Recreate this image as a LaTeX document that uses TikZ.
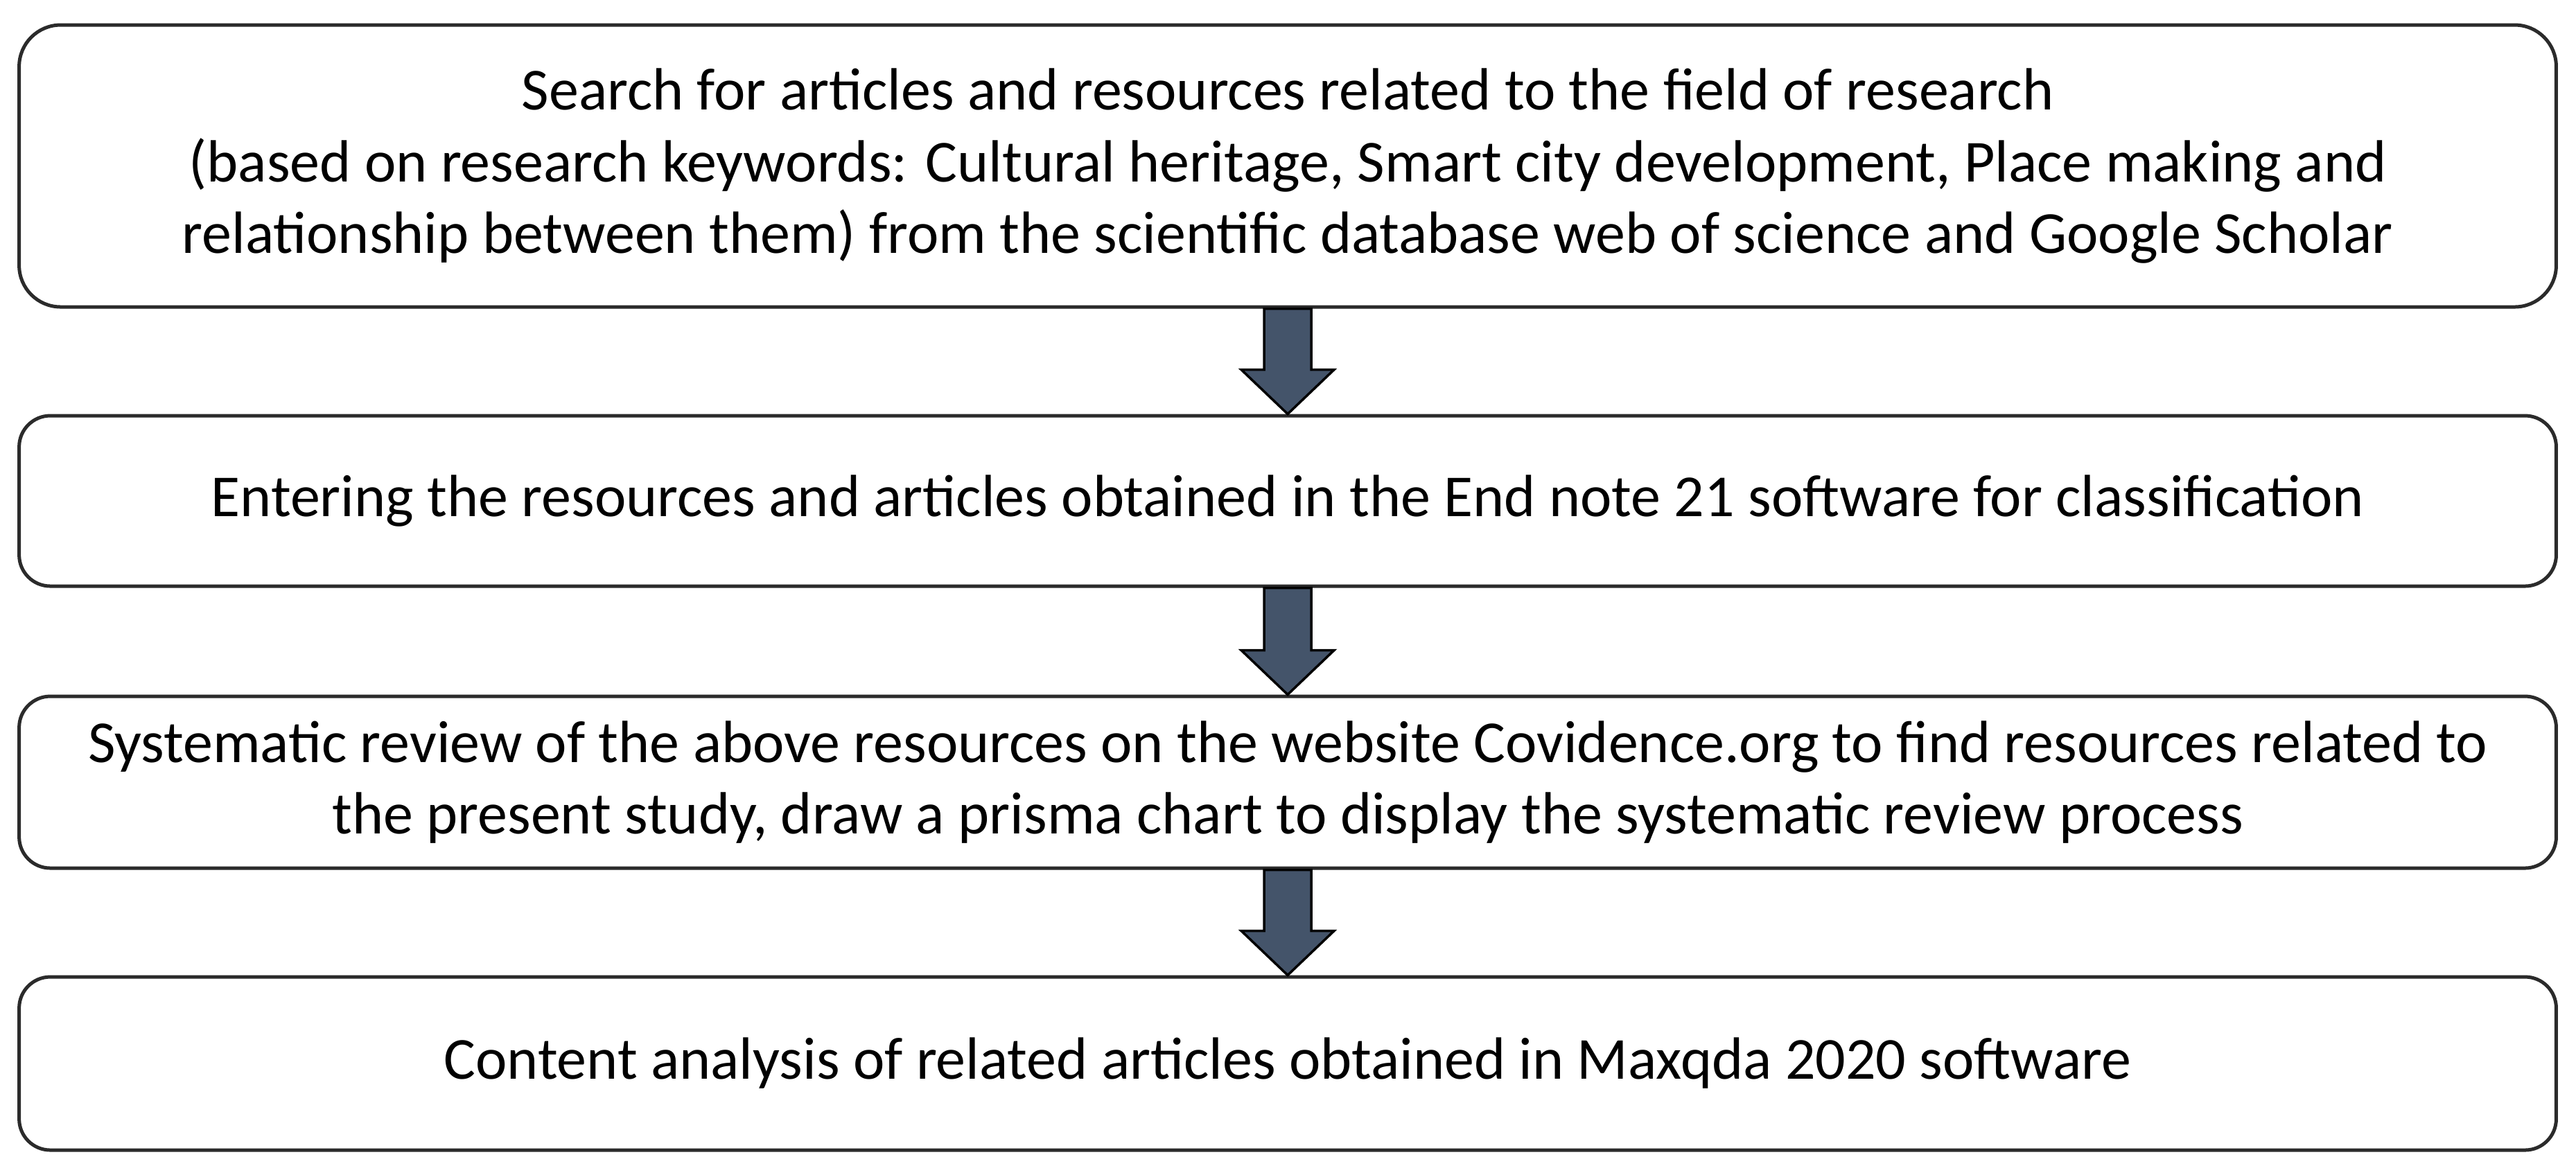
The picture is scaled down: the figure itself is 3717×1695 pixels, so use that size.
\documentclass[tikz,border=0pt]{standalone}
\usepackage{fontspec}
\setmainfont{Carlito}
\usetikzlibrary{calc}
\definecolor{boxline}{HTML}{2B2B2B}
\definecolor{arrowfill}{HTML}{44546A}
\tikzset{
  stepbox/.style={draw=boxline, line width=0.5pt, fill=white, rounded corners=4.5pt,
    minimum width=366.1pt, align=center, inner sep=0pt, text=black,
    font=\fontsize{8.6pt}{10.35pt}\selectfont},
  blockarrow/.style={draw=black, line width=0.35pt, fill=arrowfill, line join=miter}
}
\newcommand{\blockarrow}[2]{%
  \draw[blockarrow] ($(#1.south)+(-3.4pt,0)$) -- ($(#2.north)+(-3.4pt,6.4pt)$)
    -- ($(#2.north)+(-6.7pt,6.4pt)$) -- (#2.north) -- ($(#2.north)+(6.7pt,6.4pt)$)
    -- ($(#2.north)+(3.4pt,6.4pt)$) -- ($(#1.south)+(3.4pt,0)$) -- cycle;}
\begin{document}
\begin{tikzpicture}[x=0.1pt,y=-0.1pt]
\useasboundingbox (0,0) rectangle (3717,1695);
\node[stepbox, minimum height=40.7pt, rounded corners=6pt] (b1) at (1858,239.5)
  {Search for articles and resources related to the field of research\\
   (based on research keywords: Cultural heritage, Smart city development, Place making and\\
   relationship between them) from the scientific database web of science and Google Scholar};
\node[stepbox, minimum height=24.6pt] (b2) at (1858,723)
  {Entering the resources and articles obtained in the End note 21 software for classification};
\node[stepbox, minimum height=24.8pt] (b3) at (1858,1129)
  {Systematic review of the above resources on the website Covidence.org to find resources related to\\
   the present study, draw a prisma chart to display the systematic review process};
\node[stepbox, minimum height=25pt] (b4) at (1858,1535)
  {Content analysis of related articles obtained in Maxqda 2020 software};
\blockarrow{b1}{b2}
\blockarrow{b2}{b3}
\blockarrow{b3}{b4}
\end{tikzpicture}
\end{document}
